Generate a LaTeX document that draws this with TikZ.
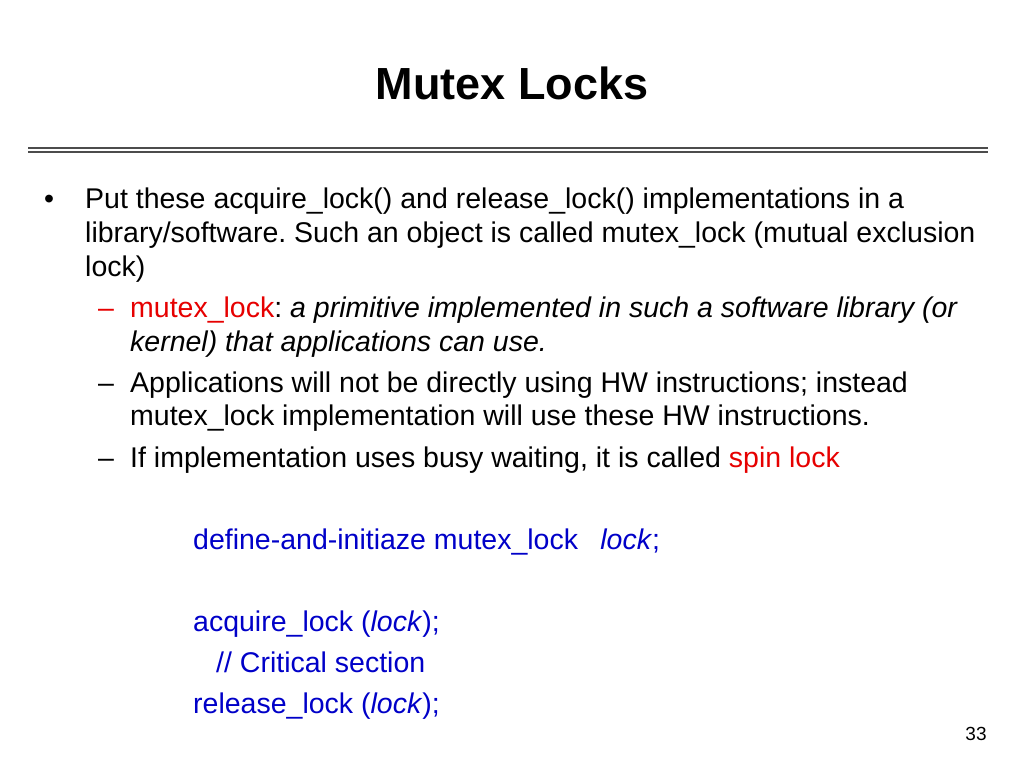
\documentclass[tikz,border=0pt]{standalone}
\usepackage{fontspec}
\setmainfont{Liberation Sans}
\frenchspacing
\definecolor{myred}{RGB}{230,0,0}
\definecolor{myblue}{RGB}{0,0,200}
\begin{document}
\begin{tikzpicture}[x=1pt,y=-1pt,
  txt/.style={anchor=base west,inner sep=0pt,font=\fontsize{28.5}{32}\selectfont},
  code/.style={txt,text=myblue}]
\useasboundingbox (0,0) rectangle (1024,768);
\node[anchor=base,inner sep=0pt,font=\fontsize{45}{50}\bfseries\selectfont] (title) at (512,99) {Mutex Locks};
\coordinate (l1) at (28,148); \coordinate (r1) at (988,148);
\coordinate (l2) at (28,152); \coordinate (r2) at (988,152);
\draw[line width=1.2pt,gray!60!black] (l1) -- (r1);
\draw[line width=1.2pt,gray!60!black] (l2) -- (r2);
\node[txt] (b) at (44,208) {•};
\node[txt] (t1) at (85,208) {Put these acquire\_lock() and release\_lock() implementations in a};
\node[txt] (t2) at (85,242) {library/software. Such an object is called mutex\_lock (mutual exclusion};
\node[txt] (t3) at (85,276) {lock)};
\node[txt,text=myred] (d1) at (98,317) {–};
\node[txt] (s1) at (130,317) {\textcolor{myred}{mutex\_lock}: \itshape a primitive implemented in such a software library (or};
\node[txt] (s1b) at (130,351) {\itshape kernel) that applications can use.};
\node[txt] (d2) at (98,392) {–};
\node[txt] (s2) at (130,392) {Applications will not be directly using HW instructions; instead};
\node[txt] (s2b) at (130,425) {mutex\_lock implementation will use these HW instructions.};
\node[txt] (d3) at (98,467) {–};
\node[txt] (s3) at (130,467) {If implementation uses busy waiting, it is called \textcolor{myred}{spin lock}};
\node[code] (c1) at (193,549) {define-and-initiaze mutex\_lock \enspace\textit{lock};};
\node[code] (c2) at (193,631) {acquire\_lock (\textit{lock});};
\node[code] (c3) at (216,672) {// Critical section};
\node[code] (c4) at (193,713) {release\_lock (\textit{lock});};
\node[anchor=base,inner sep=0pt,font=\fontsize{19}{21}\selectfont] (num) at (976,740) {33};
\end{tikzpicture}
\end{document}
